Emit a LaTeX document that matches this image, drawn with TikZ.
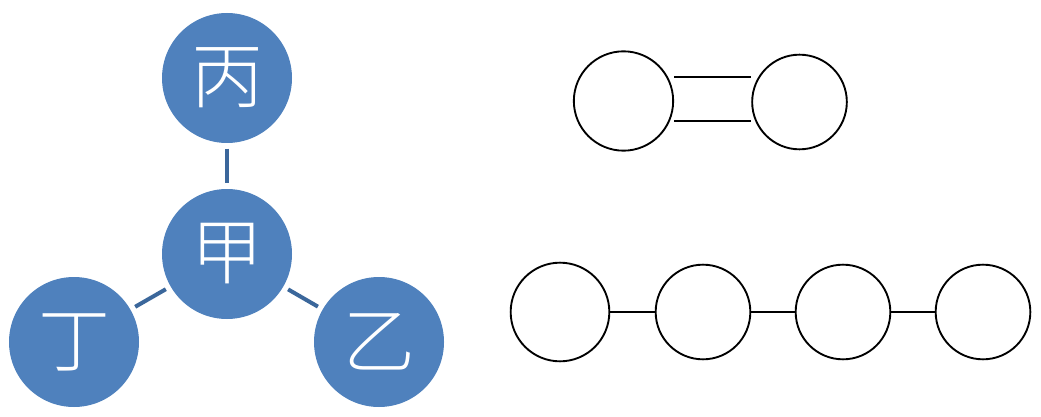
\documentclass[tikz,border=0pt]{standalone}
\usepackage{fontspec}
\newfontfamily\cjk{Noto Sans CJK SC}[UprightFont=* Light]
\definecolor{nodeblue}{HTML}{4F81BD}
\definecolor{edgeblue}{HTML}{3B679B}
\begin{document}
\begin{tikzpicture}[x=0.75pt,y=-0.75pt,
  bluenode/.style={circle,fill=nodeblue,inner sep=0pt,minimum size=97.5pt,text=white,font=\cjk\fontsize{54}{54}\selectfont},
  blueedge/.style={draw=edgeblue,line width=3pt,shorten <=4pt,shorten >=4pt},
  whitenode/.style={circle,draw=black,line width=1.4pt,fill=white,inner sep=0pt,minimum size=#1},
  blackedge/.style={draw=black,line width=1.4pt}]
\useasboundingbox (0,0) rectangle (1041,417);
% left group
\node[bluenode] (bing) at (227,78) {丙};
\node[bluenode] (jia) at (227,254) {甲};
\node[bluenode] (ding) at (74,342) {丁};
\node[bluenode] (yi) at (379,342) {乙};
\draw[blueedge] (bing) -- (jia);
\draw[blueedge] (jia) -- (ding);
\draw[blueedge] (jia) -- (yi);
% top right pair
\node[whitenode=74.5pt] (a) at (623.5,101) {};
\node[whitenode=71pt] (b) at (799.5,102) {};
\draw[blackedge] ([yshift=18pt]a.east) -- ([yshift=18pt]a.east -| b.west);
\draw[blackedge] ([yshift=-15pt]a.east) -- ([yshift=-15pt]a.east -| b.west);
% bottom chain
\node[whitenode=74pt] (c1) at (560,312) {};
\node[whitenode=71pt] (c2) at (703,312) {};
\node[whitenode=71pt] (c3) at (843,312) {};
\node[whitenode=71pt] (c4) at (983,312) {};
\draw[blackedge] (c1) -- (c2);
\draw[blackedge] (c2) -- (c3);
\draw[blackedge] (c3) -- (c4);
\end{tikzpicture}
\end{document}
